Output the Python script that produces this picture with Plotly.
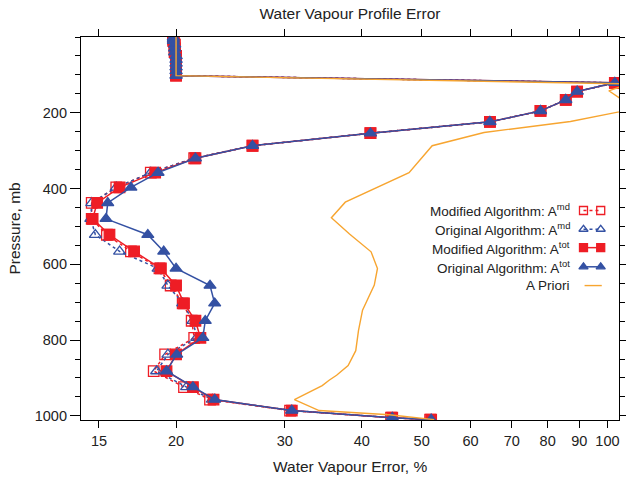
import plotly.graph_objects as go

# Pressure levels (mb) shared by every profile
pressure = [1, 5, 10, 20, 30, 40, 50, 60, 70, 80, 90, 102,
            121, 144, 166, 195, 224, 254, 287, 320, 358, 397, 438, 480,
            522, 566, 611, 656, 703, 749, 794, 838, 882, 924, 957, 986,
            1005, 1010]

# Water vapour retrieval error (%) for each algorithm / averaging kernel
orig_tot = [19.8, 19.8, 19.8, 19.9, 19.9, 19.9, 20.0, 20.0, 20.0, 20.0, 20.0, 20.0,
            102.8, 89.3, 85.6, 77.9, 64.5, 41.3, 26.6, 21.5, 18.7, 16.9, 15.5, 15.4,
            18.0, 19.1, 20.0, 22.7, 23.1, 22.3, 22.1, 20.05, 19.3, 21.3, 23.1, 30.8,
            44.8, 51.8]
mod_tot = [19.8, 19.8, 19.8, 19.9, 19.9, 19.9, 20.0, 20.0, 20.0, 20.0, 20.0, 20.0,
           102.8, 89.3, 85.6, 77.9, 64.5, 41.3, 26.6, 21.5, 18.5, 16.2, 14.9, 14.65,
           15.6, 17.1, 18.9, 20.0, 20.6, 21.5, 21.9, 20.0, 19.3, 21.3, 23.0, 30.8,
           44.8, 51.8]
orig_md = [19.8, 19.8, 19.8, 19.9, 19.9, 19.9, 20.0, 20.0, 20.0, 20.0, 20.0, 20.0,
           102.8, 89.3, 85.6, 77.9, 64.5, 41.3, 26.6, 21.4, 18.2, 16.0, 14.6, 14.55,
           14.8, 16.2, 18.7, 19.4, 20.5, 21.3, 21.6, 19.4, 18.6, 20.8, 22.9, 30.8,
           44.8, 51.8]
mod_md = [19.8, 19.8, 19.8, 19.9, 19.9, 19.9, 20.0, 20.0, 20.0, 20.0, 20.0, 20.0,
          102.8, 89.3, 85.6, 77.9, 64.5, 41.3, 26.6, 21.4, 18.2, 16.0, 14.6, 14.6,
          15.45, 16.9, 18.8, 19.6, 20.5, 21.2, 21.4, 19.2, 18.4, 20.6, 22.7, 30.6,
          44.6, 51.6]

# A priori error profile
apriori_p = [0, 102, 124, 142, 189, 223, 252, 287, 358, 436, 477, 520, 567,
             611, 655, 721, 775, 828, 867, 893, 906, 920, 957, 986, 997, 1010]
apriori_err = [20.0, 20.0, 108.0, 100.5, 111.0, 87.1, 63.1, 52.0, 47.7, 37.6, 35.7,
               38.2, 41.4, 42.4, 41.9, 40.1, 39.5, 39.1, 38.0, 36.4, 35.4, 34.5,
               31.1, 34.1, 44.3, 52.4]

x_ticks = [15, 20, 30, 40, 50, 60, 70, 80, 90, 100]
y_ticks = [200, 400, 600, 800, 1000]

BLUE = "#3451A3"
RED = "#EE1D25"
ORANGE = "#F7A530"
TEXT = "#222222"
FONT = "Liberation Sans, Arial, sans-serif"

series = [
    ("Modified Algorithm: A<sup>md</sup>", mod_md, RED, "square-open", "3px,3px"),
    ("Original Algorithm: A<sup>md</sup>", orig_md, BLUE, "triangle-up-open", "3px,3px"),
    ("Modified Algorithm: A<sup>tot</sup>", mod_tot, RED, "square", "solid"),
    ("Original Algorithm: A<sup>tot</sup>", orig_tot, BLUE, "triangle-up", "solid"),
]

fig = go.Figure()
for name, vals, color, sym, dash in series:
    fig.add_trace(go.Scatter(
        x=vals, y=pressure, mode="lines+markers", name=name, showlegend=False,
        line=dict(color=color, width=1.5, dash=dash),
        marker=dict(symbol=sym, size=10.5, color=color,
                    line=dict(color=color, width=1.3)),
    ))
fig.add_trace(go.Scatter(
    x=apriori_err, y=apriori_p, mode="lines", name="A Priori", showlegend=False,
    line=dict(color=ORANGE, width=1.4),
))

# Legend keys drawn on an overlay axis spanning the plot area (0..1)
legend_rows = [0.547, 0.498, 0.450, 0.400, 0.351]
key_x = [0.934, 0.966]
for (name, vals, color, sym, dash), yy in zip(series, legend_rows):
    fig.add_trace(go.Scatter(
        x=key_x, y=[yy, yy], xaxis="x2", yaxis="y2", mode="lines+markers",
        showlegend=False, hoverinfo="skip",
        line=dict(color=color, width=1.5, dash=dash),
        marker=dict(symbol=sym, size=8, color=color, line=dict(color=color, width=1.3)),
    ))
    fig.add_annotation(x=0.913, y=yy, xref="paper", yref="paper", text=name,
                       showarrow=False, xanchor="right", yanchor="middle",
                       font=dict(family=FONT, size=13.5, color=TEXT))
fig.add_trace(go.Scatter(
    x=[0.936, 0.968], y=[legend_rows[4]] * 2, xaxis="x2", yaxis="y2", mode="lines",
    showlegend=False, hoverinfo="skip", line=dict(color=ORANGE, width=1.4),
))
fig.add_annotation(x=0.913, y=legend_rows[4], xref="paper", yref="paper",
                   text="A Priori", showarrow=False, xanchor="right", yanchor="middle",
                   font=dict(family=FONT, size=13.5, color=TEXT))

# Axis titles
fig.add_annotation(x=0.5, y=-(466 - 420) / 383, xref="paper", yref="paper",
                   text="Water Vapour Error, %", showarrow=False,
                   xanchor="center", yanchor="middle",
                   font=dict(family=FONT, size=15.5, color=TEXT))
fig.add_annotation(x=-(81 - 14) / 538, y=0.5, xref="paper", yref="paper", text="Pressure, mb",
                   textangle=-90, showarrow=False, xanchor="center", yanchor="middle",
                   font=dict(family=FONT, size=15.5, color=TEXT))

fig.update_layout(
    template="none",
    width=626, height=483,
    margin=dict(l=81, r=7, t=37, b=63, pad=0),
    paper_bgcolor="white", plot_bgcolor="white",
    font=dict(family=FONT, size=14.5, color=TEXT),
    title=dict(text="Water Vapour Profile Error", x=0.5, xref="paper", xanchor="center",
               y=1 - 14 / 483, yref="container", yanchor="middle",
               font=dict(size=15.5, color=TEXT)),
    xaxis=dict(type="log", range=[1.147, 2.0187], tickvals=x_ticks,
               ticktext=[str(v) for v in x_ticks], ticks="outside", ticklen=7,
               tickwidth=1, tickcolor="black", showline=True, linecolor="black",
               linewidth=1.2, mirror="allticks", showgrid=False, zeroline=False,
               automargin=False),
    yaxis=dict(range=[1011, 0], tickvals=y_ticks, ticks="outside", ticklen=10,
               tickwidth=1, tickcolor="black", showline=True, linecolor="black",
               linewidth=1.2, mirror="allticks", showgrid=False, zeroline=False,
               automargin=False,
               minor=dict(dtick=50, tick0=0, ticks="outside", ticklen=5,
                          tickcolor="black", tickwidth=1, showgrid=False)),
    xaxis2=dict(overlaying="x", range=[0, 1], visible=False, fixedrange=True),
    yaxis2=dict(overlaying="y", range=[0, 1], visible=False, fixedrange=True),
)

fig.write_html("out.html")
